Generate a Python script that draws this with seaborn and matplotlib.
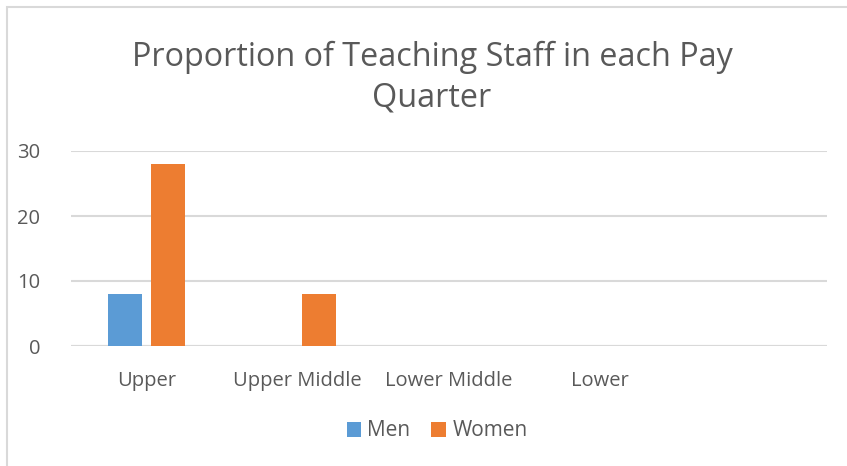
import pandas as pd
import matplotlib.pyplot as plt
import seaborn as sns
from matplotlib.patches import Rectangle

# ==============================
# Datos
# ==============================
quarters = ["Upper", "Upper Middle", "Lower Middle", "Lower"]
men = [8, 0, 0, 0]
women = [28, 8, 0, 0]
series = ["Men", "Women"]
y_ticks = [0, 10, 20, 30]

df = pd.DataFrame({
    "Quarter": quarters * 2,
    "Gender": ["Men"] * len(quarters) + ["Women"] * len(quarters),
    "Count": men + women,
})

# ==============================
# Estilo
# ==============================
sns.set_theme(style="white")
plt.rcParams["font.family"] = ["Open Sans", "DejaVu Sans"]
text_color = "#595959"
grid_color = "#D9D9D9"

fig = plt.figure(figsize=(8.47, 4.66), dpi=100)
ax = fig.add_axes([71 / 847, 1 - 346 / 466, (827 - 71) / 847, (346 - 151) / 466])

sns.barplot(
    data=df,
    x="Quarter",
    y="Count",
    hue="Gender",
    hue_order=series,
    order=quarters,
    palette=["#5B9BD5", "#ED7D31"],
    saturation=1,
    width=0.57,
    gap=0.21,
    linewidth=0,
    ax=ax,
    legend=True,
)

ax.set_xlim(-0.5, 4.5)
ax.set_ylim(0, 30)
ax.set_yticks(y_ticks)
ax.set_xlabel("")
ax.set_ylabel("")
for s in ax.spines.values():
    s.set_visible(False)
ax.yaxis.grid(True, color=grid_color, linewidth=1.5)
ax.set_axisbelow(True)
ax.tick_params(axis="both", length=0, labelsize=14.5, colors=text_color)
ax.tick_params(axis="y", pad=22)
ax.tick_params(axis="x", pad=18)
ax.axhline(0, color=grid_color, linewidth=1.5, zorder=0.5)

# Título
fig.text(432 / 847, 1 - 78 / 466,
         "Proportion of Teaching Staff in each Pay\nQuarter",
         ha="center", va="center", fontsize=23.3, color=text_color,
         linespacing=1.3)

# Leyenda
handles, labels = ax.get_legend_handles_labels()
ax.get_legend().remove()
fig.legend(handles, labels, loc="center", bbox_to_anchor=(437 / 847, 1 - 431 / 466),
           ncol=2, frameon=False, fontsize=15, handlelength=0.7, handleheight=0.7,
           handletextpad=0.3, columnspacing=1.0, labelcolor=text_color)

# Borde del gráfico
fig.patches.append(Rectangle((7 / 847, -0.1), 1.2, (466 - 7) / 466 + 0.1,
                             transform=fig.transFigure, fill=False,
                             edgecolor=grid_color, linewidth=1.5))

plt.savefig("out.png", dpi=100)
plt.close()
